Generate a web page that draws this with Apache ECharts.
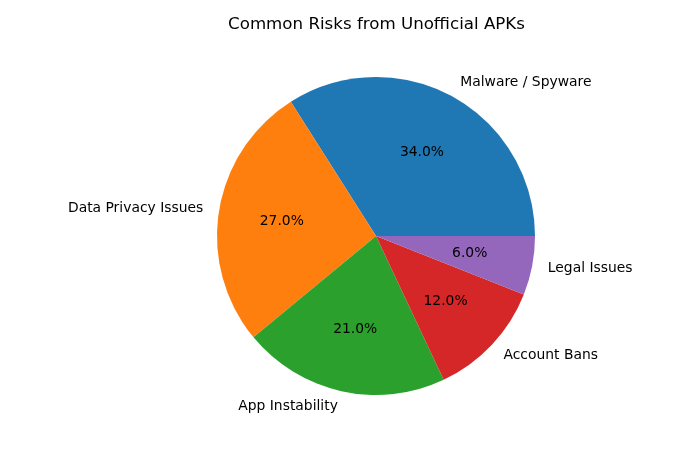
<!DOCTYPE html>
<html>
<head>
<meta charset="utf-8">
<script src="https://cdn.jsdelivr.net/npm/echarts@6/dist/echarts.min.js"></script>
<style>html,body{margin:0;padding:0;background:#fff}#c{width:700px;height:450px}</style>
</head>
<body>
<div id="c"></div>
<script>
const categories = ["Malware / Spyware", "Data Privacy Issues", "App Instability", "Account Bans", "Legal Issues"];
const values = [34, 27, 21, 12, 6];
const colors = ["#1f77b4", "#ff7f0e", "#2ca02c", "#d62728", "#9467bd"];
const titleText = "Common Risks from Unofficial APKs";

const R = 159;
const center = [376, 236];
const font = "DejaVu Sans";
const total = values.reduce((a, b) => a + b, 0);

const data = categories.map((c, i) => ({ name: c, value: values[i], itemStyle: { color: colors[i] } }));
const pctData = categories.map((c, i) => ({ name: c, value: values[i] }));

const chart = echarts.init(document.getElementById('c'), null, { renderer: 'canvas' });
chart.setOption({
  backgroundColor: '#ffffff',
  animation: false,
  title: {
    text: titleText, left: 371.5, top: 11, textAlign: 'center',
    textStyle: { fontFamily: font, fontSize: 16.67, fontWeight: 'normal', color: '#000' }
  },
  series: [
    {
      type: 'pie', center: center, radius: [0, R], startAngle: 0, clockwise: false,
      avoidLabelOverlap: false, silent: true,
      data: data,
      label: {
        show: true, position: 'outside', formatter: '{b}', distanceToLabelLine: 0,
        fontFamily: font, fontSize: 13.89, color: '#000'
      },
      labelLine: { show: false, length: R * 0.1, length2: 0 },
      emphasis: { disabled: true }
    },
    {
      type: 'pie', center: center, radius: [0, (R * 0.6 - 3) * 2], startAngle: 0, clockwise: false,
      avoidLabelOverlap: false, silent: true,
      data: pctData,
      itemStyle: { color: 'rgba(0,0,0,0)' },
      label: {
        show: true, position: 'inside',
        formatter: p => (p.value / total * 100).toFixed(1) + '%',
        fontFamily: font, fontSize: 13.89, color: '#000'
      },
      labelLine: { show: false },
      emphasis: { disabled: true }
    }
  ]
});
</script>
</body>
</html>
